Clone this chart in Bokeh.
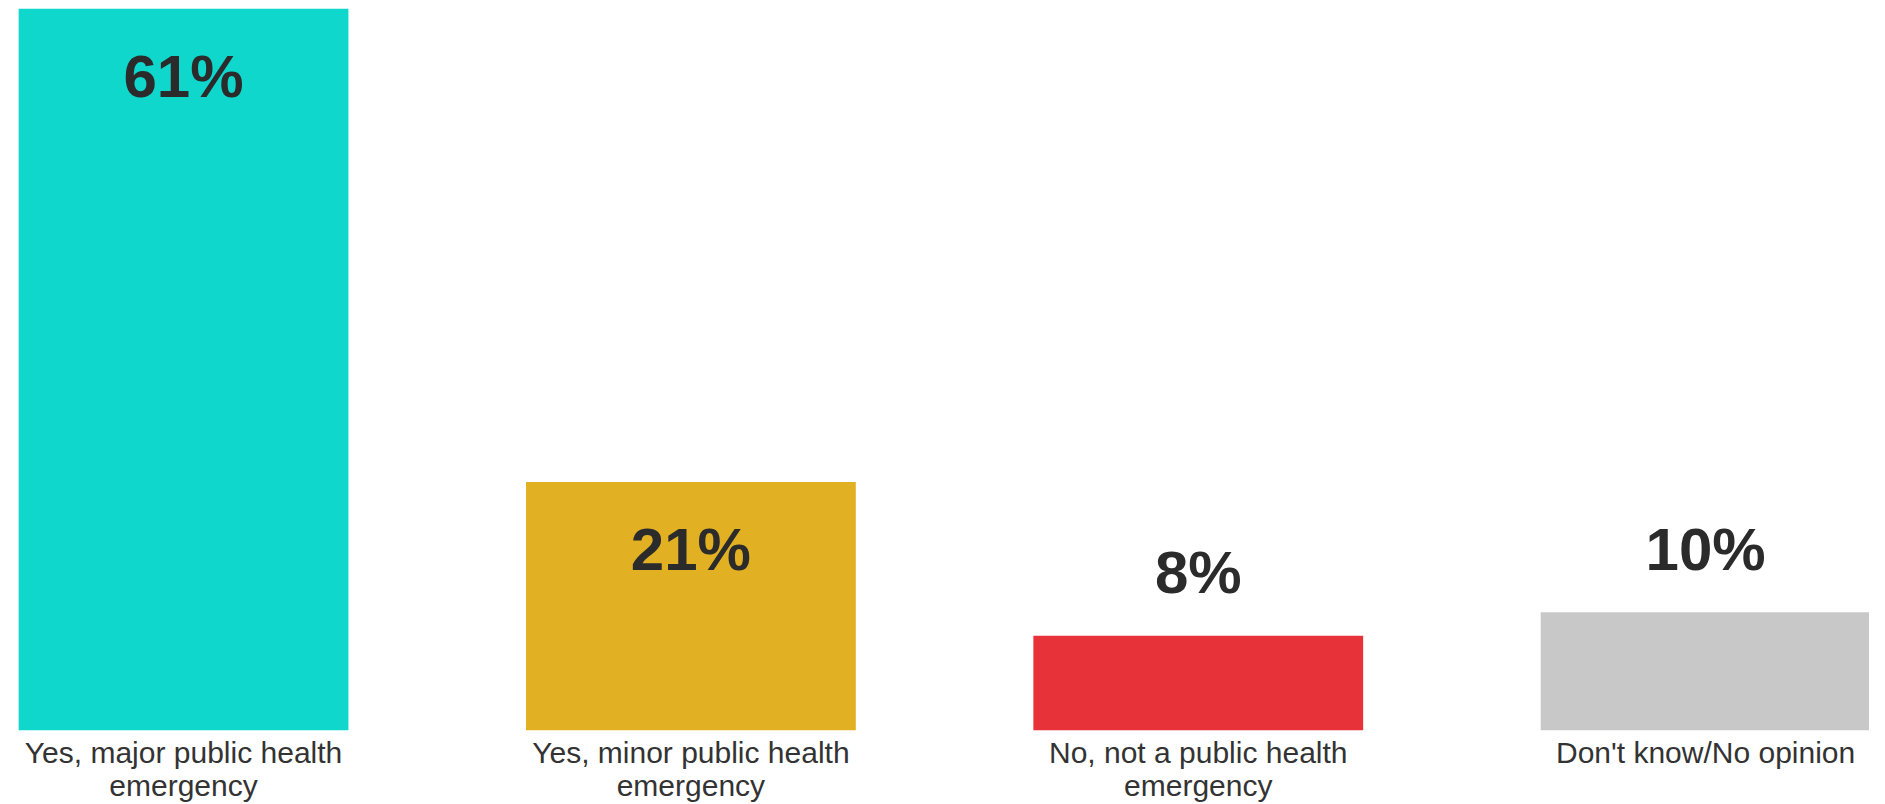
from bokeh.plotting import figure
from bokeh.models import ColumnDataSource, Range1d, FixedTicker
from bokeh.core.properties import value
from bokeh.embed import file_html
from bokeh.resources import INLINE

categories = ["Yes, major public health\nemergency",
              "Yes, minor public health\nemergency",
              "No, not a public health\nemergency",
              "Don't know/No opinion"]
values = [61, 21, 8, 10]
labels = ["61%", "21%", "8%", "10%"]
colors = ["#0FD7CC", "#E1B023", "#E83239", "#C8C8C8"]

FRAME_W, FRAME_H = 1861, 722
Y_MAX = 61
px_per = FRAME_H / Y_MAX

xs = list(range(len(values)))
label_y = []
for v in values:
    if v > 15:
        label_y.append(v - 68 / px_per)
    else:
        label_y.append(v + 63 / px_per)

src = ColumnDataSource(dict(x=xs, top=values, color=colors, label=labels, ly=label_y))

p = figure(frame_width=FRAME_W, frame_height=FRAME_H,
           x_range=Range1d(-0.345, 3.323), y_range=Range1d(0, Y_MAX),
           output_backend="svg", toolbar_location=None,
           min_border_left=8, min_border_right=0, min_border_top=8, min_border_bottom=0)

p.vbar(x="x", top="top", bottom=0, width=0.65, color="color", line_color=None, source=src)
p.text(x="x", y="ly", text="label", source=src, text_align="center", text_baseline="alphabetic",
       text_font=value("Liberation Sans"), text_font_style="bold", text_font_size="60px",
       text_color="#2B2B2B")

p.yaxis.visible = False
p.xaxis.ticker = FixedTicker(ticks=xs)
p.xaxis.major_label_overrides = {i: c for i, c in enumerate(categories)}
p.xaxis.major_label_text_font = "Liberation Sans"
p.xaxis.major_label_text_font_size = "30px"
p.xaxis.major_label_text_line_height = 1.0
p.xaxis.major_label_text_color = "#333333"
p.xaxis.major_label_standoff = 5
p.xaxis.major_tick_in = 0
p.xaxis.major_tick_out = 0
p.xaxis.axis_line_color = None
p.xaxis.major_tick_line_color = None
p.xaxis.minor_tick_line_color = None
p.xgrid.visible = False
p.ygrid.visible = False
p.outline_line_color = None
p.background_fill_color = "white"
p.border_fill_color = "white"

open("out.html", "w").write(file_html(p, INLINE))
